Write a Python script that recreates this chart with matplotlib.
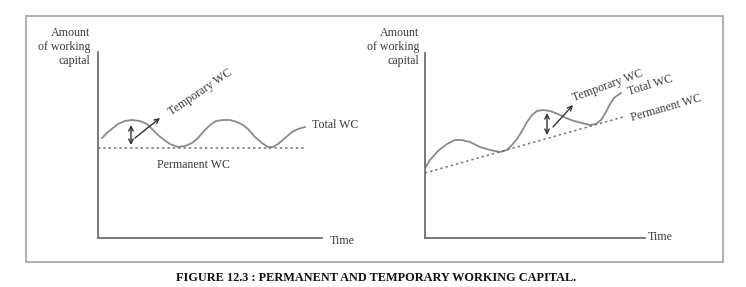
import matplotlib.pyplot as plt
from matplotlib.patches import Rectangle

plt.rcParams['font.family'] = ['Liberation Serif', 'DejaVu Serif']

# left panel: constant permanent WC, total WC waves around it
left_t = [0.4, 1.0, 2.0, 2.7, 3.4, 4.2, 4.9, 5.5, 6.0, 6.5, 7.2, 8.0, 8.7, 9.4, 10.0,
          10.6, 11.2, 11.8, 12.5, 13.2, 13.9, 14.5, 15.0, 15.7, 16.4, 17.0, 17.5,
          18.0, 18.7, 19.4, 20.0, 20.7]
left_total = [10.0, 10.6, 11.4, 11.7, 11.8, 11.7, 11.4, 10.8, 10.3, 9.9, 9.4, 9.1,
              9.2, 9.5, 10.0, 10.7, 11.3, 11.7, 11.8, 11.8, 11.6, 11.3, 10.9, 10.1,
              9.5, 9.1, 9.1, 9.4, 10.0, 10.6, 10.9, 11.1]
left_perm_t = [0.0, 20.7]
left_perm = [9.0, 9.0]

# right panel: rising permanent WC
right_t = [0.0, 0.5, 1.3, 2.2, 3.0, 3.7, 4.5, 5.5, 6.5, 7.5, 8.2, 8.7, 9.2, 9.7, 10.2,
           10.7, 11.2, 11.8, 12.5, 13.3, 14.1, 14.9, 15.7, 16.5, 17.1, 17.6, 18.1,
           18.5, 18.9, 19.3, 19.6]
right_total = [7.0, 7.8, 8.7, 9.4, 9.8, 9.8, 9.6, 9.1, 8.8, 8.6, 8.8, 9.3, 9.9, 10.7,
               11.6, 12.3, 12.7, 12.8, 12.7, 12.4, 12.0, 11.7, 11.5, 11.3, 11.4, 11.8,
               12.6, 13.4, 14.0, 14.3, 14.5]
right_perm_t = [0.0, 19.8]
right_perm = [6.5, 12.1]

ylabel = 'Amount\nof working\ncapital'
caption = 'FIGURE 12.3 : PERMANENT AND TEMPORARY WORKING CAPITAL.'

W, H = 746, 287
fig = plt.figure(figsize=(W / 100, H / 100), dpi=100)

bg = fig.add_axes([0, 0, 1, 1])
bg.set_xlim(0, W)
bg.set_ylim(H, 0)
bg.axis('off')
bg.add_patch(Rectangle((26, 16), 697, 246, fill=False, ec='#a8a8a8', lw=1.3))
bg.text(376, 278, caption, ha='center', va='center', fontsize=8.8,
        fontweight='bold', color='#111111')

curve_col = '#8a8a8a'
txt_col = '#3a3a3a'
fs = 8.6


def panel(rect, xmax, ymax):
    ax = fig.add_axes(rect)
    ax.set_xlim(0, xmax)
    ax.set_ylim(0, ymax)
    for s in ['top', 'right']:
        ax.spines[s].set_visible(False)
    for s in ['left', 'bottom']:
        ax.spines[s].set_color('#707070')
        ax.spines[s].set_linewidth(1.3)
    ax.set_xticks([])
    ax.set_yticks([])
    ax.patch.set_alpha(0)
    return ax


def arrows(ax, x, y0, y1, p0, p1):
    ax.annotate('', xy=(x, y1), xytext=(x, y0),
                arrowprops=dict(arrowstyle='<->', color='#333333', lw=1,
                                mutation_scale=8, shrinkA=0, shrinkB=0))
    ax.annotate('', xy=p1, xytext=p0,
                arrowprops=dict(arrowstyle='->', color='#333333', lw=1,
                                mutation_scale=8, shrinkA=0, shrinkB=0))


# left
ax1 = panel([98 / W, 49 / H, 224 / W, 186 / H], 22.4, 18.6)
ax1.plot(left_t, left_total, color=curve_col, lw=1.3)
ax1.plot(left_perm_t, left_perm, color='#707070', lw=1.1, ls=(0, (1.5, 2)))
arrows(ax1, 3.3, 9.3, 11.3, (3.7, 10.0), (6.2, 12.0))
ax1.text(10.2, 14.6, 'Temporary WC', rotation=34, ha='center', va='center',
         fontsize=fs, color=txt_col)
ax1.text(21.4, 11.3, 'Total WC', ha='left', va='center', fontsize=fs,
         color=txt_col, clip_on=False)
ax1.text(9.5, 7.3, 'Permanent WC', ha='center', va='center', fontsize=fs,
         color=txt_col)
ax1.text(23.2, -0.3, 'Time', ha='left', va='center', fontsize=fs, color=txt_col,
         clip_on=False)

# right
ax2 = panel([425 / W, 49 / H, 220 / W, 185 / H], 22.0, 18.5)
ax2.plot(right_t, right_total, color=curve_col, lw=1.3)
ax2.plot(right_perm_t, right_perm, color='#707070', lw=1.1, ls=(0, (1.5, 2)))
arrows(ax2, 12.2, 10.3, 12.5, (12.8, 11.1), (14.8, 13.3))
ax2.text(18.3, 15.2, 'Temporary WC', rotation=20, ha='center', va='center',
         fontsize=fs, color=txt_col)
ax2.text(22.5, 15.3, 'Total WC', rotation=17, ha='center', va='center',
         fontsize=fs, color=txt_col, clip_on=False)
ax2.text(24.1, 13.0, 'Permanent WC', rotation=16, ha='center', va='center',
         fontsize=fs, color=txt_col, clip_on=False)
ax2.text(22.3, 0.1, 'Time', ha='left', va='center', fontsize=fs, color=txt_col,
         clip_on=False)

for x in [90, 419]:
    bg.text(x, 47, ylabel, ha='right', va='center', fontsize=fs, color=txt_col,
            linespacing=1.25)

fig.savefig('out.png', dpi=100)
